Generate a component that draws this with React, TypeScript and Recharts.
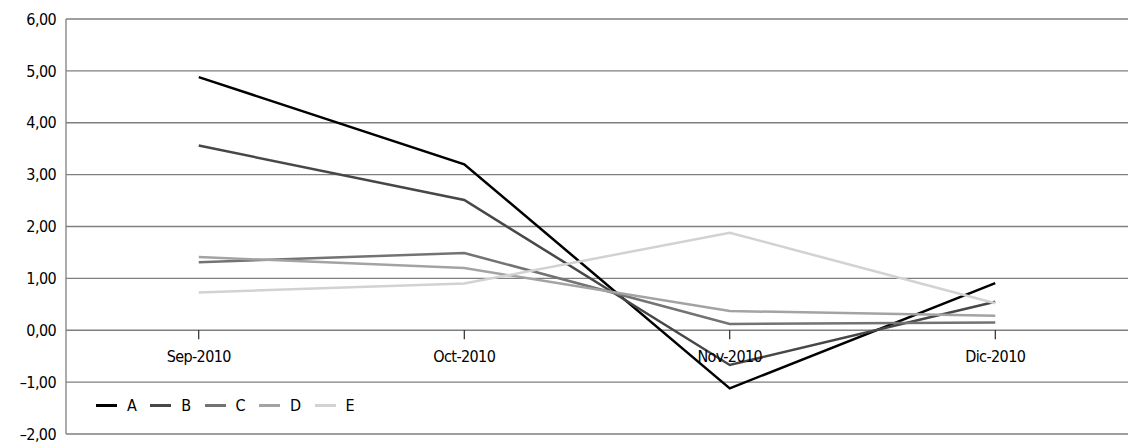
import React from "react";
import { LineChart, Line, YAxis, XAxis, CartesianGrid, ReferenceDot, Legend } from "recharts";

const months = ["Sep-2010", "Oct-2010", "Nov-2010", "Dic-2010"];
const serieA = [4.88, 3.2, -1.12, 0.91];
const serieB = [3.56, 2.51, -0.67, 0.55];
const serieC = [1.31, 1.49, 0.12, 0.15];
const serieD = [1.41, 1.2, 0.37, 0.28];
const serieE = [0.73, 0.9, 1.88, 0.52];
const yTicks = [-2, -1, 0, 1, 2, 3, 4, 5, 6];

const series = [
  { key: "A", values: serieA, color: "#000000" },
  { key: "B", values: serieB, color: "#474747" },
  { key: "C", values: serieC, color: "#737373" },
  { key: "D", values: serieD, color: "#a3a3a3" },
  { key: "E", values: serieE, color: "#d2d2d2" },
];

const data = months.map((m, i) => {
  const row: { [k: string]: string | number } = { month: m };
  series.forEach((s) => (row[s.key] = s.values[i]));
  return row;
});

const FONT = "'DejaVu Sans', sans-serif";
const FS = 16;
const LS = -0.6;
const GRID = "#7f7f7f";

const fmt = (v: number) => {
  const s = Math.abs(v).toFixed(2).replace(".", ",");
  return v < 0 ? "\u2013" + s : s;
};

const textStyle = { fontStretch: "condensed" as const };

// category ticks sit on the zero line, not at the bottom of the plot
const zeroTick = (label: string) => (p: any) => (
  <g>
    <line x1={p.cx} y1={p.cy} x2={p.cx} y2={p.cy + 9} stroke="#000" strokeWidth={1} />
    <text
      x={p.cx}
      y={p.cy + 32}
      textAnchor="middle"
      fontFamily={FONT}
      fontSize={FS}
      letterSpacing={LS}
      style={textStyle}
      fill="#000"
    >
      {label}
    </text>
  </g>
);

const renderLegend = (props: any) => (
  <div style={{ display: "flex", fontFamily: FONT, fontSize: FS, letterSpacing: LS, ...textStyle }}>
    {props.payload.map((e: any) => (
      <div key={e.value} style={{ display: "flex", alignItems: "center", marginRight: 14 }}>
        <div style={{ width: 21, height: 2.5, background: e.color, marginRight: 10 }} />
        <span>{e.value}</span>
      </div>
    ))}
  </div>
);

const App = () => (
  <LineChart width={1129} height={438} data={data} margin={{ top: 11, right: 9, bottom: 12, left: 0 }}>
    <CartesianGrid vertical={false} stroke={GRID} strokeWidth={1.3} />
    <XAxis dataKey="month" scale="band" hide />
    <YAxis
      domain={[-2, 6]}
      ticks={yTicks}
      width={58}
      tickFormatter={fmt}
      tickLine={false}
      tickSize={0}
      tickMargin={10}
      axisLine={{ stroke: GRID, strokeWidth: 1.3 }}
      tick={{ fill: "#000", fontFamily: FONT, fontSize: FS, letterSpacing: LS, style: textStyle }}
    />
    {series.map((s) => (
      <Line
        key={s.key}
        dataKey={s.key}
        stroke={s.color}
        strokeWidth={2.5}
        dot={false}
        isAnimationActive={false}
      />
    ))}
    {months.map((m) => (
      <ReferenceDot key={m} x={m} y={0} r={0} ifOverflow="visible" shape={zeroTick(m)} />
    ))}
    <Legend
      layout="horizontal"
      verticalAlign="middle"
      align="center"
      content={renderLegend}
      wrapperStyle={{ left: 88, top: 388, width: "auto" }}
    />
  </LineChart>
);

export default App;
